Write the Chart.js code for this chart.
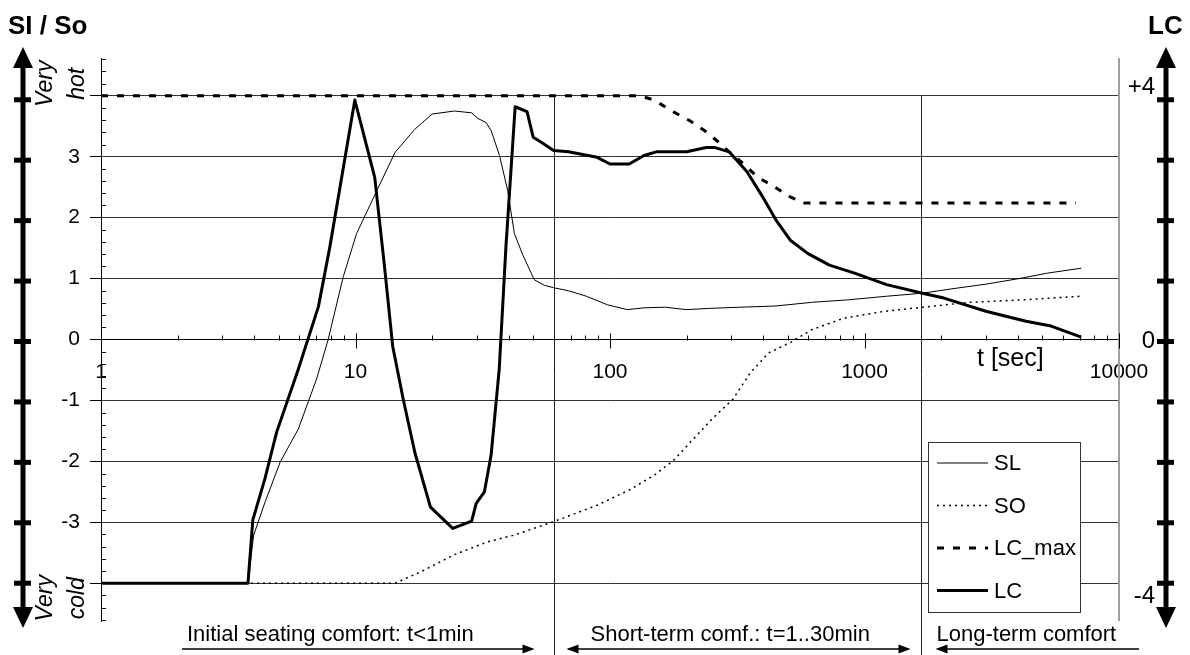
<!DOCTYPE html>
<html>
<head>
<meta charset="utf-8">
<script src="https://cdn.jsdelivr.net/npm/chart.js@4.4.1/dist/chart.umd.min.js"></script>
<style>
    html, body { margin: 0; padding: 0; background: #fff; }
    #wrap { position: relative; width: 1190px; height: 655px; }
</style>
</head>
<body>
<div id="wrap"><canvas id="chart" width="1190" height="655"></canvas></div>
<script>
(function () {
    'use strict';

    // t [sec] and comfort values
    var tSL = [1, 3.78, 3.98, 4.42, 5.06, 5.96, 7.03, 7.81, 8.95, 10.1, 11.9, 14.3, 17.1, 20.0, 24.5, 28.6, 30.2, 32.6, 34.1, 36.8, 39.6, 42.1, 45.4, 50.4, 55.2, 60, 68.7, 80.8, 97.7, 117, 136, 165, 200, 243, 324, 449, 620, 857, 1222, 1690, 2189, 3022, 4178, 5248, 7110];
    var vSL = [-4, -4, -3.21, -2.66, -2.01, -1.47, -0.65, 0, 1.03, 1.74, 2.37, 3.07, 3.45, 3.70, 3.75, 3.72, 3.63, 3.56, 3.43, 3.02, 2.45, 1.74, 1.39, 0.98, 0.89, 0.85, 0.80, 0.71, 0.57, 0.49, 0.52, 0.53, 0.49, 0.51, 0.53, 0.55, 0.61, 0.65, 0.71, 0.76, 0.83, 0.91, 1.01, 1.09, 1.17];

    var tSO = [1, 14.3, 18.1, 24.5, 33.1, 42.1, 60, 89, 119, 149, 178, 213, 251, 304, 357, 420, 511, 620, 828, 1183, 1690, 2570, 4178, 7010];
    var vSO = [-4, -4, -3.81, -3.53, -3.32, -3.21, -2.99, -2.72, -2.47, -2.23, -1.98, -1.63, -1.31, -0.98, -0.54, -0.22, -0.05, 0.16, 0.35, 0.46, 0.53, 0.61, 0.65, 0.71];

    var tLCmax = [1, 131, 149, 175, 206, 235, 267, 294, 335, 381, 434, 511, 581, 6780];
    var vLCmax = [4, 4, 3.93, 3.75, 3.59, 3.43, 3.24, 3.08, 2.88, 2.66, 2.53, 2.34, 2.24, 2.24];

    var tLC = [1, 3.78, 3.95, 4.41, 4.9, 5.96, 7.15, 7.93, 9.94, 11.9, 13.0, 14.0, 15.4, 17.1, 19.7, 24.1, 28.6, 29.8, 32.1, 34.1, 36.7, 39.0, 42.4, 47.2, 49.9, 53.5, 60, 68.7, 89, 100, 119, 136, 152, 200, 239, 259, 294, 346, 394, 449, 511, 600, 728, 914, 1222, 1690, 2051, 3022, 4315, 5410, 7110];
    var vLC = [-4, -4, -2.96, -2.28, -1.52, -0.49, 0.54, 1.52, 3.93, 2.66, 1.2, -0.11, -0.98, -1.85, -2.75, -3.10, -2.98, -2.69, -2.50, -1.90, -0.49, 1.52, 3.82, 3.74, 3.32, 3.24, 3.10, 3.08, 2.99, 2.88, 2.88, 3.02, 3.08, 3.08, 3.15, 3.15, 3.08, 2.75, 2.37, 1.96, 1.63, 1.41, 1.22, 1.09, 0.90, 0.76, 0.68, 0.46, 0.30, 0.22, 0.04];

    var xTickValues = [1, 2, 3, 4, 5, 6, 7, 8, 9, 10, 20, 30, 40, 50, 60, 70, 80, 90, 100, 200, 300, 400, 500, 600, 700, 800, 900, 1000, 2000, 3000, 4000, 5000, 6000, 7000, 8000, 9000, 10000];
    var xTickLabels = ['1', '10', '100', '1000', '10000'];
    var yTickLabels = ['-3', '-2', '-1', '0', '1', '2', '3'];
    var lcLabels = ['-4', '0', '+4'];
    var lcLabelValues = [-4, 0, 4];
    var phaseBounds = [60, 1670];
    var phaseLabels = ['Initial seating comfort: t<1min', 'Short-term comf.: t=1..30min', 'Long-term comfort'];

    var FONT = "'Liberation Sans', Arial, sans-serif";
    Chart.defaults.font.family = FONT;
    Chart.defaults.color = '#000';

    function pts(t, v) {
        return t.map(function (x, i) { return { x: x, y: v[i] }; });
    }

    function isInt(v) {
        return Math.abs(v - Math.round(v)) < 1e-6;
    }

    function isDecade(v) {
        return xTickLabels.indexOf(String(v)) !== -1;
    }

    function arrowHead(ctx, x, y, dir) {
        ctx.beginPath();
        ctx.moveTo(x, y);
        ctx.lineTo(x - dir * 12, y - 4.5);
        ctx.lineTo(x - dir * 12, y + 4.5);
        ctx.closePath();
        ctx.fill();
    }

    function vArrow(ctx, x, top, bottom, ys) {
        ctx.fillStyle = '#000';
        ctx.strokeStyle = '#000';
        ctx.lineWidth = 5;
        ctx.beginPath();
        ctx.moveTo(x, top + 15);
        ctx.lineTo(x, bottom - 15);
        ctx.stroke();
        ctx.beginPath();
        ctx.moveTo(x, top);
        ctx.lineTo(x - 10, top + 21);
        ctx.lineTo(x + 10, top + 21);
        ctx.closePath();
        ctx.fill();
        ctx.beginPath();
        ctx.moveTo(x, bottom);
        ctx.lineTo(x - 10, bottom - 21);
        ctx.lineTo(x + 10, bottom - 21);
        ctx.closePath();
        ctx.fill();
        for (var v = -4; v <= 4; v++) {
            var py = ys.getPixelForValue(v) + (v + 4) / 2;
            ctx.fillRect(x - 9, py - 2.5, 17, 5);
        }
    }

    function rotText(ctx, text, x, y) {
        ctx.save();
        ctx.translate(x, y);
        ctx.rotate(-Math.PI / 2);
        ctx.textAlign = 'center';
        ctx.textBaseline = 'alphabetic';
        ctx.fillText(text, 0, 0);
        ctx.restore();
    }

    var decoPlugin = {
        id: 'deco',
        beforeDatasetsDraw: function (chart) {
            var ctx = chart.ctx;
            var xs = chart.scales.x;
            var ys = chart.scales.y;
            var area = chart.chartArea;
            ctx.save();

            // phase boundaries
            ctx.strokeStyle = '#222';
            ctx.lineWidth = 1;
            phaseBounds.forEach(function (t) {
                var px = Math.round(xs.getPixelForValue(t)) + 0.5;
                ctx.beginPath();
                ctx.moveTo(px, ys.getPixelForValue(4));
                ctx.lineTo(px, chart.height);
                ctx.stroke();
            });

            // right frame
            ctx.strokeStyle = '#a0a0a0';
            ctx.lineWidth = 2;
            ctx.beginPath();
            ctx.moveTo(area.right, area.top);
            ctx.lineTo(area.right, area.bottom);
            ctx.stroke();

            // x ticks on the zero line
            var y0 = Math.round(ys.getPixelForValue(0)) + 0.5;
            ctx.strokeStyle = '#000';
            ctx.lineWidth = 1;
            xs.ticks.forEach(function (tk) {
                var px = Math.round(xs.getPixelForValue(tk.value)) + 0.5;
                ctx.beginPath();
                if (isDecade(tk.value)) {
                    ctx.moveTo(px, y0 - 7);
                    ctx.lineTo(px, y0 + 8);
                } else {
                    ctx.moveTo(px, y0 - 5);
                    ctx.lineTo(px, y0);
                }
                ctx.stroke();
            });

            // y minor ticks inside
            ys.ticks.forEach(function (tk) {
                if (isInt(tk.value)) {
                    return;
                }
                var py = Math.round(ys.getPixelForValue(tk.value)) + 0.5;
                ctx.beginPath();
                ctx.moveTo(area.left, py);
                ctx.lineTo(area.left + 5, py);
                ctx.stroke();
            });
            ctx.restore();
        },
        afterDraw: function (chart) {
            var ctx = chart.ctx;
            var xs = chart.scales.x;
            var ys = chart.scales.y;
            var area = chart.chartArea;
            ctx.save();
            ctx.fillStyle = '#000';

            // titles
            ctx.font = 'bold 26px ' + FONT;
            ctx.textBaseline = 'alphabetic';
            ctx.textAlign = 'left';
            ctx.fillText('SI / So', 8, 34);
            ctx.fillText('LC', 1148, 34);

            ctx.font = '25px ' + FONT;
            ctx.fillText('t [sec]', 977, 366);

            // side arrows
            vArrow(ctx, 23, 47, 628, ys);
            vArrow(ctx, 1166, 47, 628, ys);

            ctx.font = 'italic 23px ' + FONT;
            var yHot = ys.getPixelForValue(4) - 12;
            var yCold = ys.getPixelForValue(-4) + 15;
            rotText(ctx, 'Very', 52, yHot);
            rotText(ctx, 'hot', 84, yHot);
            rotText(ctx, 'Very', 52, yCold);
            rotText(ctx, 'cold', 84, yCold);

            // LC axis labels
            ctx.font = '24px ' + FONT;
            ctx.textAlign = 'right';
            ctx.textBaseline = 'middle';
            lcLabels.forEach(function (lab, i) {
                var v = lcLabelValues[i];
                var off = v > 0 ? -8 : (v < 0 ? 13 : 2);
                ctx.fillText(lab, 1155, ys.getPixelForValue(v) + off);
            });

            // phase annotations
            var b1 = Math.round(xs.getPixelForValue(phaseBounds[0])) + 0.5;
            var b2 = Math.round(xs.getPixelForValue(phaseBounds[1])) + 0.5;
            var ay = 649;
            ctx.font = '22px ' + FONT;
            ctx.textAlign = 'left';
            ctx.textBaseline = 'alphabetic';
            ctx.fillText(phaseLabels[0], area.left + 86, 641);
            ctx.fillText(phaseLabels[1], b1 + 36, 641);
            ctx.fillText(phaseLabels[2], b2 + 15, 641);
            ctx.strokeStyle = '#000';
            ctx.lineWidth = 1.5;
            ctx.beginPath();
            ctx.moveTo(area.left + 81, ay);
            ctx.lineTo(b1 - 22, ay);
            ctx.moveTo(b1 + 14, ay);
            ctx.lineTo(b2 - 13, ay);
            ctx.moveTo(b2 + 16, ay);
            ctx.lineTo(area.right + 20, ay);
            ctx.stroke();
            arrowHead(ctx, b1 - 20, ay, 1);
            arrowHead(ctx, b1 + 12, ay, -1);
            arrowHead(ctx, b2 - 11, ay, 1);
            arrowHead(ctx, b2 + 14, ay, -1);

            // legend
            var lx = area.right - 191;
            var ly = area.bottom - 179;
            var lw = 152;
            var lh = 170;
            ctx.fillStyle = '#fff';
            ctx.fillRect(lx, ly, lw, lh);
            ctx.strokeStyle = '#333';
            ctx.lineWidth = 1;
            ctx.strokeRect(lx + 0.5, ly + 0.5, lw, lh);
            ctx.font = '22px ' + FONT;
            ctx.textBaseline = 'middle';
            ctx.textAlign = 'left';
            chart.data.datasets.forEach(function (ds, i) {
                var yy = ly + 21 + i * 42.5;
                ctx.strokeStyle = '#000';
                ctx.lineWidth = ds.borderWidth;
                ctx.setLineDash(ds.borderDash || []);
                ctx.beginPath();
                ctx.moveTo(lx + 9, yy);
                ctx.lineTo(lx + 60, yy);
                ctx.stroke();
                ctx.setLineDash([]);
                ctx.fillStyle = '#000';
                ctx.fillText(ds.label, lx + 66, yy + 1);
            });
            ctx.restore();
        }
    };

    new Chart(document.getElementById('chart'), {
        type: 'line',
        data: {
            datasets: [{
                label: 'SL',
                data: pts(tSL, vSL),
                borderColor: '#000',
                borderWidth: 1
            }, {
                label: 'SO',
                data: pts(tSO, vSO),
                borderColor: '#000',
                borderWidth: 1.5,
                borderDash: [2, 4]
            }, {
                label: 'LC_max',
                data: pts(tLCmax, vLCmax),
                borderColor: '#000',
                borderWidth: 3,
                borderDash: [7, 9]
            }, {
                label: 'LC',
                data: pts(tLC, vLC),
                borderColor: '#000',
                borderWidth: 3,
                borderJoinStyle: 'round'
            }]
        },
        options: {
            responsive: false,
            devicePixelRatio: 1,
            animation: false,
            layout: { padding: { top: 58, right: 71, bottom: 34, left: 0 } },
            elements: { point: { radius: 0 }, line: { tension: 0, fill: false } },
            plugins: { legend: { display: false }, tooltip: { enabled: false } },
            scales: {
                x: {
                    type: 'logarithmic',
                    min: 1,
                    max: 10000,
                    position: { y: 0 },
                    afterBuildTicks: function (scale) {
                        scale.ticks = xTickValues.map(function (v) { return { value: v }; });
                    },
                    grid: { display: false, drawTicks: false },
                    border: { display: true, color: '#000', width: 1 },
                    ticks: {
                        autoSkip: false,
                        maxRotation: 0,
                        padding: 20,
                        font: { size: 21 },
                        callback: function (v) {
                            return isDecade(v) ? String(v) : '';
                        }
                    }
                },
                y: {
                    min: -4.62,
                    max: 4.62,
                    afterBuildTicks: function (scale) {
                        var out = [];
                        for (var i = -23; i <= 23; i++) {
                            out.push({ value: i / 5 });
                        }
                        scale.ticks = out;
                    },
                    afterFit: function (scale) {
                        scale.width = 101;
                    },
                    border: { display: true, color: '#000', width: 1 },
                    grid: {
                        color: function (c) { return isInt(c.tick.value) ? '#333' : 'rgba(0,0,0,0)'; },
                        tickColor: function (c) { return isInt(c.tick.value) ? '#000' : 'rgba(0,0,0,0)'; },
                        lineWidth: 1,
                        drawTicks: true,
                        tickLength: 11
                    },
                    ticks: {
                        autoSkip: false,
                        padding: 10,
                        font: { size: 21 },
                        callback: function (v) {
                            var r = Math.round(v * 10) / 10;
                            var s = String(Math.round(r));
                            return isInt(r) && yTickLabels.indexOf(s) !== -1 ? s : '';
                        }
                    }
                }
            }
        },
        plugins: [decoPlugin]
    });
})();
</script>
</body>
</html>
